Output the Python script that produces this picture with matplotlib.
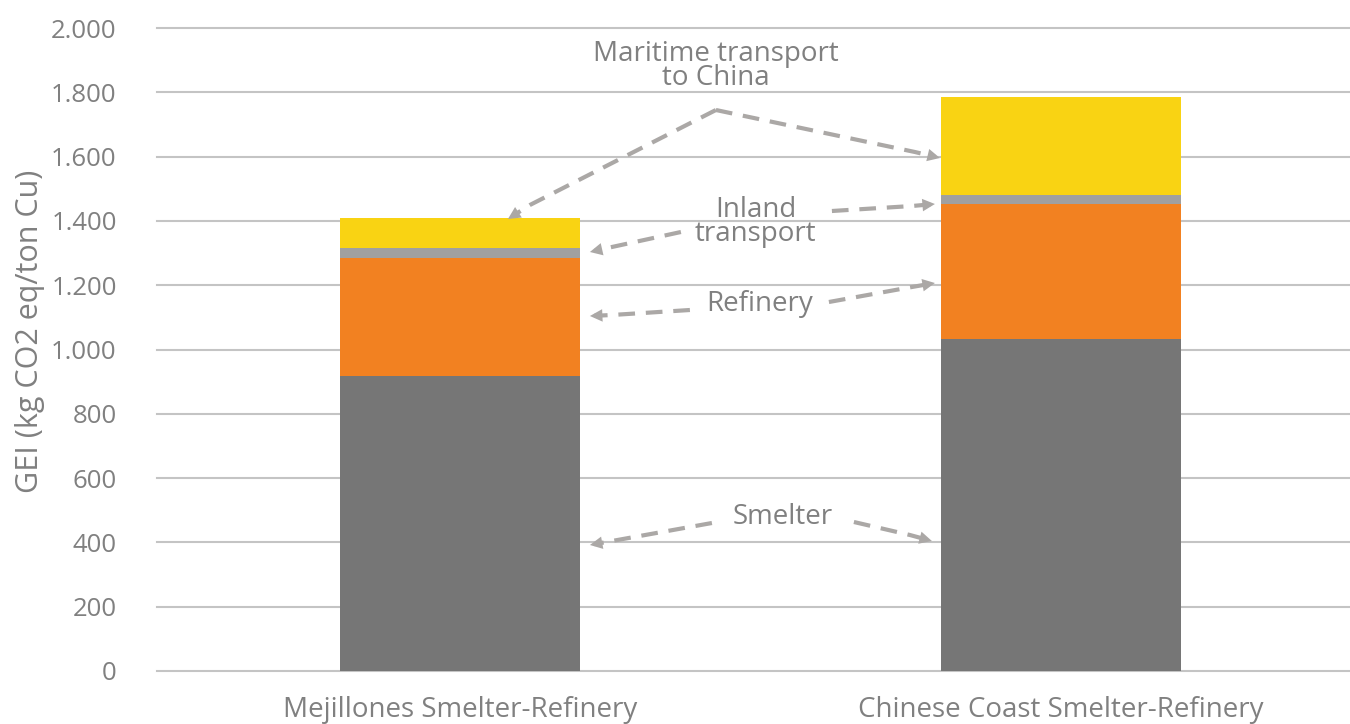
import matplotlib
matplotlib.use("Agg")
import matplotlib.pyplot as plt
from matplotlib.ticker import FuncFormatter, MultipleLocator

categories = ["Mejillones Smelter-Refinery", "Chinese Coast Smelter-Refinery"]
series_names = ["Smelter", "Refinery", "Inland transport", "Maritime transport to China"]
smelter = [918, 1033]
refinery = [367, 421]
inland = [31, 27]
maritime = [93, 304]
colors = ["#767676", "#F28121", "#A0A0A0", "#F9D313"]

TXT = "#808080"
plt.rcParams['font.family'] = ['Open Sans', 'DejaVu Sans']

W, H = 1350, 724
fig = plt.figure(figsize=(W / 100, H / 100), dpi=100)
ax_left, ax_right, ax_top, ax_bot = 157, 1350, 28, 671
ax = fig.add_axes([ax_left / W, 1 - ax_bot / H, (ax_right - ax_left) / W, (ax_bot - ax_top) / H])

x = list(range(len(categories)))
bottom = [0, 0]
for vals, c in zip([smelter, refinery, inland, maritime], colors):
    ax.bar(x, vals, width=0.4, bottom=bottom, color=c, zorder=3)
    bottom = [b + v for b, v in zip(bottom, vals)]

ax.set_xlim(-0.504, 1.481)
ax.set_ylim(0, 2000)
ax.yaxis.set_major_locator(MultipleLocator(200))
ax.yaxis.set_major_formatter(FuncFormatter(lambda v, p: f"{int(v):,}".replace(",", ".")))
ax.grid(axis='y', color="#C4C4C4", linewidth=1.5, zorder=0)
for gl in ax.get_ygridlines():
    gl.set_clip_on(False)
for s in ax.spines.values():
    s.set_visible(False)
ax.tick_params(axis='y', length=0, pad=29, labelsize=18.5, labelcolor=TXT)
ax.tick_params(axis='x', length=0, pad=18, labelsize=20, labelcolor=TXT)
ax.set_xticks(x)
ax.set_xticklabels(categories)
ax.set_ylabel("GEI (kg CO2 eq/ton Cu)", fontsize=22, color=TXT)
ax.yaxis.set_label_coords((45 - ax_left) / (ax_right - ax_left), (671 - 331) / 643)


def px(pxx, pyy):
    return ((pxx - 460) / 601.0, (671 - pyy) / 0.3215)


ARW = "#ABA8A6"


def arrow(path, tip):
    pts = [px(*p) for p in path] + [px(*tip)]
    xs = [p[0] for p in pts]
    ys = [p[1] for p in pts]
    ax.plot(xs[:-1] + [xs[-2] + (xs[-1] - xs[-2]) * 0.8],
            ys[:-1] + [ys[-2] + (ys[-1] - ys[-2]) * 0.8],
            color=ARW, lw=3, dashes=(4, 2.6), zorder=5, solid_capstyle='butt', dash_capstyle='butt')
    ax.annotate("", xy=pts[-1], xytext=(xs[-2] + (xs[-1] - xs[-2]) * 0.7, ys[-2] + (ys[-1] - ys[-2]) * 0.7),
                arrowprops=dict(arrowstyle="-|>,head_length=0.9,head_width=0.45", color=ARW, lw=0,
                                shrinkA=0, shrinkB=0), zorder=6)


FS = 20
# Maritime
arrow([(716, 110), (530, 205)], (508, 219))
arrow([(716, 110), (915, 152)], (940, 158))
ax.text(*px(716, 66), "Maritime transport\nto China", ha='center', va='center', fontsize=FS,
        color=TXT, linespacing=0.8, zorder=7)
# Inland
arrow([(832, 211), (912, 206)], (935, 204))
arrow([(681, 232), (612, 247)], (590, 252))
ax.text(*px(756, 222), "Inland\ntransport", ha='center', va='center', fontsize=FS,
        color=TXT, linespacing=0.8, zorder=7)
# Refinery
arrow([(690, 310), (612, 315)], (590, 316))
arrow([(829, 302), (912, 287)], (935, 283))
ax.text(*px(760, 304), "Refinery", ha='center', va='center', fontsize=FS, color=TXT, zorder=7)
# Smelter
arrow([(712, 523), (612, 541)], (590, 545))
arrow([(854, 522), (910, 535)], (932, 541))
ax.text(*px(783, 517), "Smelter", ha='center', va='center', fontsize=FS, color=TXT, zorder=7)

fig.savefig("out.png", dpi=100)
